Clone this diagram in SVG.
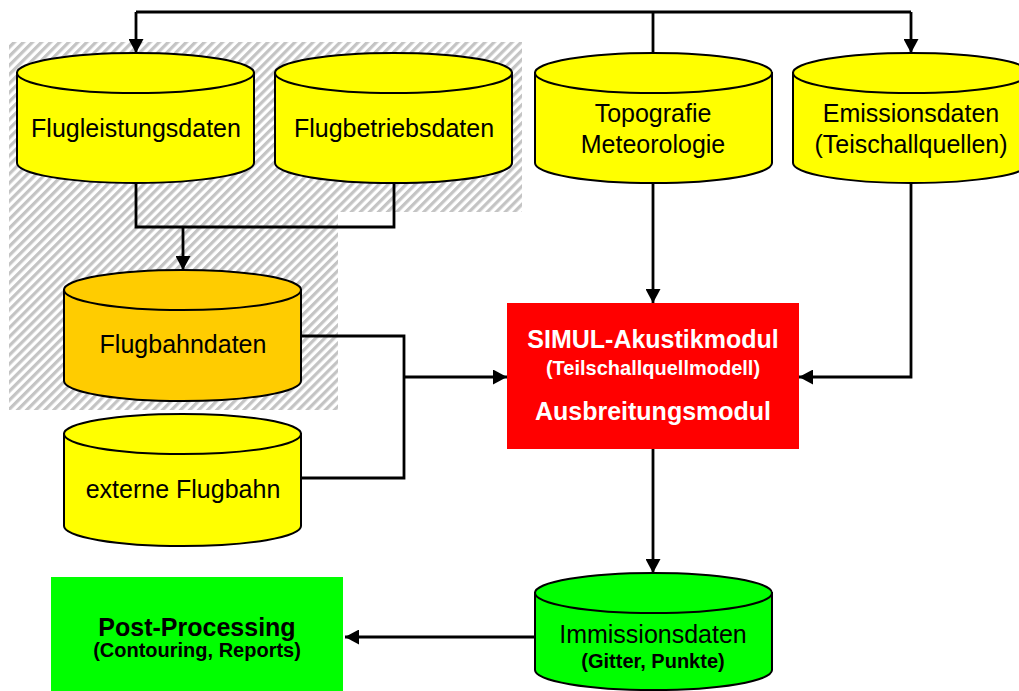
<svg xmlns="http://www.w3.org/2000/svg" width="1019" height="691" viewBox="0 0 1019 691">
<style>
.cyl{stroke:#000;stroke-width:2}
.y{fill:#FFFF00}
.o{fill:#FFCC00}
.g{fill:#00FF00}
.t{font-family:"Liberation Sans",Arial,sans-serif;font-size:25px;text-anchor:middle;fill:#000}
.b{font-weight:bold}
.s{font-size:20px}
.w{fill:#fff}
.c{fill:none;stroke:#000;stroke-width:2.8}
</style>
<defs>
<pattern id="hatch" width="6.4" height="6.4" patternUnits="userSpaceOnUse" patternTransform="rotate(45)">
<rect width="6.4" height="6.4" fill="#fff"/>
<rect width="3.2" height="6.4" fill="#c4c4c4"/>
</pattern>
<marker id="ah" markerUnits="userSpaceOnUse" markerWidth="15" markerHeight="15" refX="14" refY="7.5" orient="auto">
<path d="M0,0 L14,7.5 L0,15 z" fill="#000"/>
</marker>
</defs>
<rect width="1019" height="691" fill="#fff"/>
<path id="hatch-area" d="M9,42 H522 V212 H338 V410 H9 Z" fill="url(#hatch)"/>

<g id="connectors">
<path class="c" d="M653,53 V12"/>
<path class="c" d="M136,12 H911"/>
<path class="c" d="M136,12 V53" marker-end="url(#ah)"/>
<path class="c" d="M911,12 V53" marker-end="url(#ah)"/>
<path class="c" d="M653,183 V303" marker-end="url(#ah)"/>
<path class="c" d="M911,183 V377 H799" marker-end="url(#ah)"/>
<path class="c" d="M136,183 V227 H394 V183"/>
<path class="c" d="M183,227 V270" marker-end="url(#ah)"/>
<path class="c" d="M301,336 H404 V478 H301"/>
<path class="c" d="M404,377 H507" marker-end="url(#ah)"/>
<path class="c" d="M653,449 V573" marker-end="url(#ah)"/>
<path class="c" d="M535,637 H345" marker-end="url(#ah)"/>
</g>

<g id="flugleistungsdaten">
<path class="cyl y" d="M17,73 V163 A118.5,20 0 0 0 254,163 V73 Z"/>
<ellipse class="cyl y" cx="135.5" cy="73" rx="118.5" ry="20"/>
<text class="t" x="136" y="137">Flugleistungsdaten</text>
</g>
<g id="flugbetriebsdaten">
<path class="cyl y" d="M275,73 V163 A118.5,20 0 0 0 512,163 V73 Z"/>
<ellipse class="cyl y" cx="393.5" cy="73" rx="118.5" ry="20"/>
<text class="t" x="394" y="137">Flugbetriebsdaten</text>
</g>
<g id="topografie">
<path class="cyl y" d="M535,73 V163 A118.5,20 0 0 0 772,163 V73 Z"/>
<ellipse class="cyl y" cx="653.5" cy="73" rx="118.5" ry="20"/>
<text class="t" x="653" y="122">Topografie</text>
<text class="t" x="653" y="153">Meteorologie</text>
</g>
<g id="emissionsdaten">
<path class="cyl y" d="M793,73 V163 A118.5,20 0 0 0 1030,163 V73 Z"/>
<ellipse class="cyl y" cx="911.5" cy="73" rx="118.5" ry="20"/>
<text class="t" x="911" y="122">Emissionsdaten</text>
<text class="t" x="911" y="153">(Teischallquellen)</text>
</g>
<g id="flugbahndaten">
<path class="cyl o" d="M64,290 V381 A118.5,20 0 0 0 301,381 V290 Z"/>
<ellipse class="cyl o" cx="182.5" cy="290" rx="118.5" ry="20"/>
<text class="t" x="183" y="353">Flugbahndaten</text>
</g>
<g id="externe-flugbahn">
<path class="cyl y" d="M64,434 V526 A118.5,20 0 0 0 301,526 V434 Z"/>
<ellipse class="cyl y" cx="182.5" cy="434" rx="118.5" ry="20"/>
<text class="t" x="183" y="498">externe Flugbahn</text>
</g>
<g id="simul">
<rect x="507" y="303" width="292" height="146" fill="#FF0000"/>
<text class="t b w" x="653" y="348">SIMUL-Akustikmodul</text>
<text class="t b w s" x="653" y="375">(Teilschallquellmodell)</text>
<text class="t b w" x="653" y="420">Ausbreitungsmodul</text>
</g>
<g id="immissionsdaten">
<path class="cyl g" d="M535,593 V670 A118.5,20 0 0 0 772,670 V593 Z"/>
<ellipse class="cyl g" cx="653.5" cy="593" rx="118.5" ry="20"/>
<text class="t" x="653" y="643">Immissionsdaten</text>
<text class="t b s" x="653" y="668">(Gitter, Punkte)</text>
</g>
<g id="post-processing">
<rect x="51" y="577" width="292" height="114" fill="#00FF00"/>
<text class="t b" x="197" y="636">Post-Processing</text>
<text class="t b s" x="197" y="657">(Contouring, Reports)</text>
</g>
</svg>
